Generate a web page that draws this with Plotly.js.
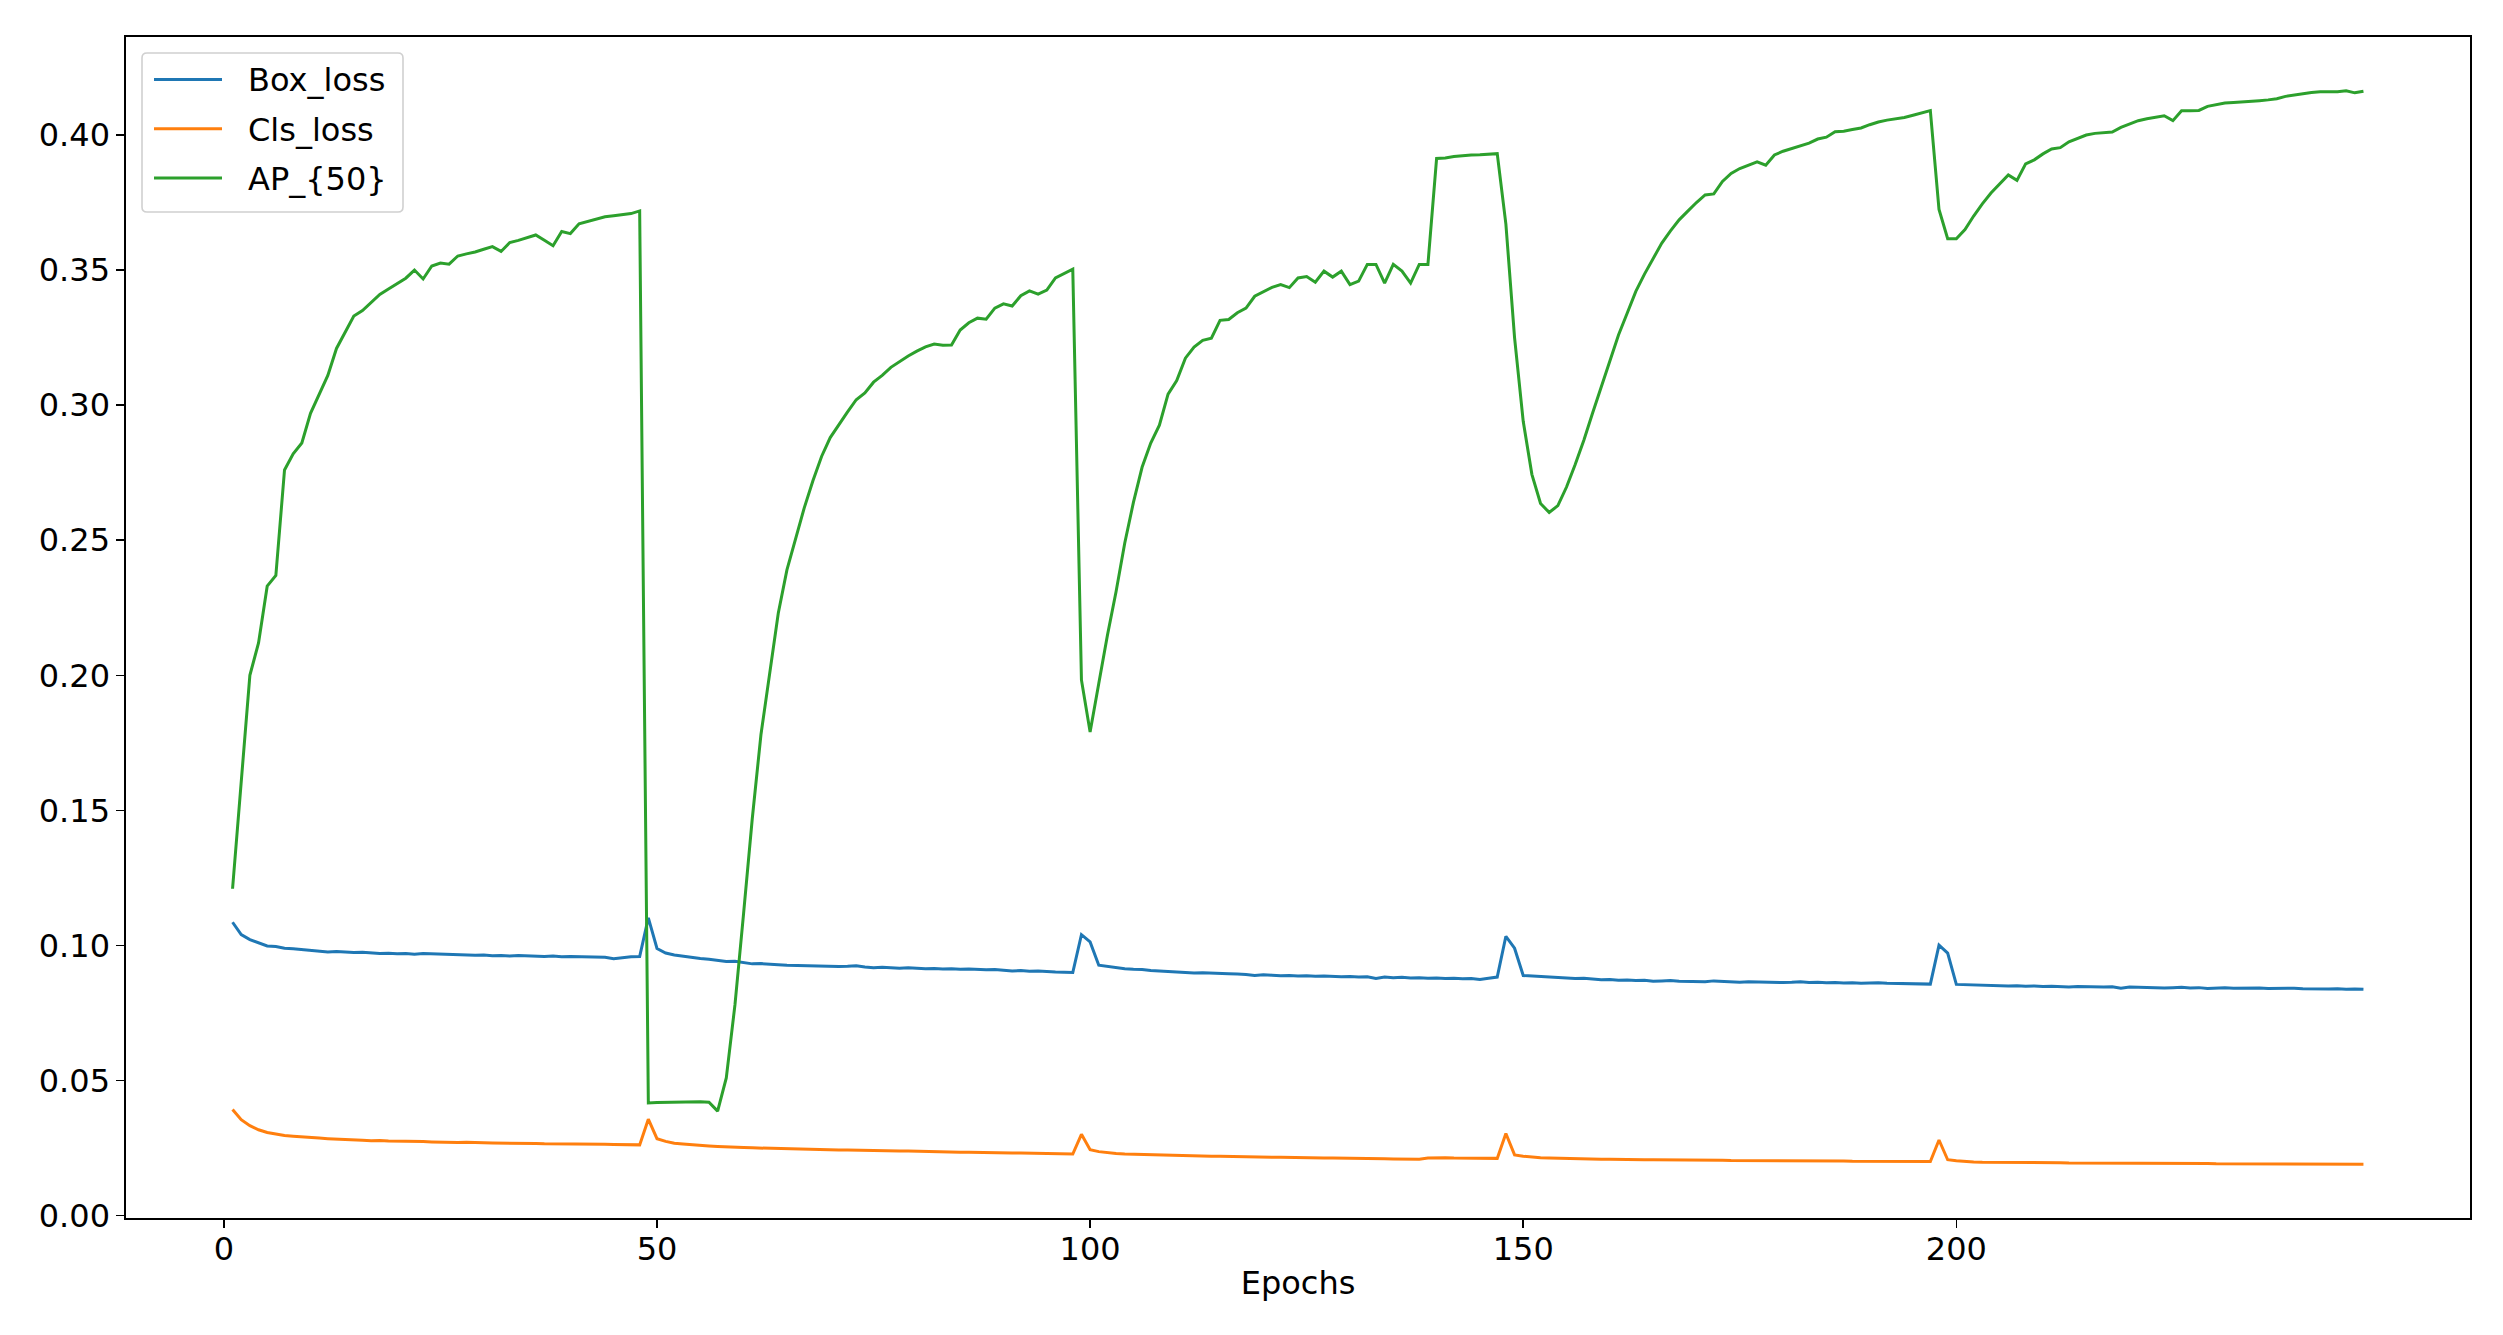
<!DOCTYPE html>
<html>
<head>
<meta charset="utf-8">
<script src="https://cdn.plot.ly/plotly-3.0.1.min.js"></script>
<style>html,body{margin:0;padding:0;background:#fff;}#chart{width:2503px;height:1335px;}</style>
</head>
<body>
<div id="chart"></div>
<script>
const seriesNames = ["Box_loss", "Cls_loss", "AP_{50}"];
const seriesColors = ["#1f77b4", "#ff7f0e", "#2ca02c"];
const xTickVals = [0, 50, 100, 150, 200];
const yTickVals = [0.00, 0.05, 0.10, 0.15, 0.20, 0.25, 0.30, 0.35, 0.40];

const boxLoss = [
0.1086,0.1040,0.1022,0.1010,0.0998,0.0996,0.0990,0.0988,0.0985,0.0983,
0.0980,0.0976,0.0978,0.0975,0.0974,0.0975,0.0972,0.0970,0.0971,0.0969,
0.0970,0.0968,0.0970,0.0969,0.0969,0.0966,0.0965,0.0966,0.0964,0.0965,
0.0962,0.0963,0.0961,0.0963,0.0961,0.0960,0.0959,0.0961,0.0958,0.0959,
0.0958,0.0957,0.0958,0.0956,0.0951,0.0955,0.0958,0.0959,0.1102,0.0989,
0.0972,0.0965,0.0960,0.0955,0.0952,0.0949,0.0946,0.0941,0.0942,0.0938,
0.0932,0.0933,0.0930,0.0929,0.0927,0.0926,0.0925,0.0926,0.0923,0.0924,
0.0922,0.0923,0.0925,0.0920,0.0918,0.0919,0.0917,0.0916,0.0918,0.0915,
0.0914,0.0915,0.0913,0.0914,0.0912,0.0913,0.0911,0.0910,0.0911,0.0908,
0.0906,0.0907,0.0905,0.0906,0.0903,0.0902,0.0901,0.0900,0.1040,0.1013,
0.0927,0.0922,0.0917,0.0914,0.0912,0.0911,0.0907,0.0905,0.0904,0.0902,
0.0899,0.0898,0.0899,0.0897,0.0896,0.0895,0.0894,0.0893,0.0889,0.0892,
0.0890,0.0888,0.0889,0.0887,0.0888,0.0886,0.0887,0.0885,0.0884,0.0885,
0.0883,0.0884,0.0878,0.0883,0.0881,0.0882,0.0880,0.0881,0.0879,0.0880,
0.0878,0.0879,0.0877,0.0878,0.0874,0.0879,0.0883,0.1034,0.0990,0.0889,
0.0887,0.0885,0.0884,0.0882,0.0880,0.0878,0.0879,0.0876,0.0873,0.0874,
0.0871,0.0872,0.0870,0.0871,0.0868,0.0869,0.0870,0.0868,0.0867,0.0868,
0.0866,0.0869,0.0867,0.0865,0.0864,0.0866,0.0865,0.0864,0.0865,0.0863,
0.0864,0.0866,0.0863,0.0864,0.0862,0.0863,0.0861,0.0862,0.0860,0.0861,
0.0862,0.0860,0.0859,0.0860,0.0857,0.0856,0.0857,0.1001,0.0972,0.0856,
0.0855,0.0854,0.0852,0.0853,0.0851,0.0850,0.0851,0.0849,0.0850,0.0848,
0.0849,0.0847,0.0846,0.0848,0.0847,0.0845,0.0846,0.0847,0.0842,0.0846,
0.0845,0.0844,0.0845,0.0843,0.0844,0.0845,0.0843,0.0844,0.0841,0.0843,
0.0844,0.0842,0.0843,0.0842,0.0843,0.0841,0.0842,0.0841,0.0842,0.0840,
0.0839,0.0840,0.0839,0.0840,0.0838,0.0839,0.0838
];

const clsLoss = [
0.0393,0.0355,0.0333,0.0318,0.0308,0.0302,0.0297,0.0294,0.0291,0.0289,
0.0287,0.0285,0.0284,0.0282,0.0280,0.0279,0.0277,0.0278,0.0276,0.0276,
0.0275,0.0275,0.0274,0.0273,0.0272,0.0272,0.0271,0.0272,0.0270,0.0270,
0.0269,0.0269,0.0268,0.0268,0.0267,0.0267,0.0266,0.0266,0.0265,0.0266,
0.0265,0.0264,0.0264,0.0264,0.0263,0.0263,0.0262,0.0262,0.0357,0.0285,
0.0275,0.0268,0.0265,0.0262,0.0260,0.0258,0.0256,0.0254,0.0253,0.0252,
0.0251,0.0250,0.0249,0.0248,0.0247,0.0246,0.0246,0.0245,0.0244,0.0244,
0.0243,0.0243,0.0242,0.0243,0.0241,0.0240,0.0240,0.0239,0.0239,0.0238,
0.0237,0.0237,0.0236,0.0236,0.0235,0.0235,0.0234,0.0234,0.0233,0.0233,
0.0232,0.0232,0.0231,0.0231,0.0230,0.0230,0.0229,0.0228,0.0301,0.0244,
0.0237,0.0233,0.0230,0.0228,0.0227,0.0226,0.0225,0.0224,0.0224,0.0223,
0.0222,0.0221,0.0221,0.0220,0.0220,0.0219,0.0218,0.0218,0.0217,0.0217,
0.0216,0.0216,0.0215,0.0215,0.0214,0.0214,0.0213,0.0213,0.0213,0.0212,
0.0212,0.0211,0.0211,0.0211,0.0210,0.0210,0.0209,0.0209,0.0213,0.0214,
0.0214,0.0213,0.0213,0.0213,0.0212,0.0212,0.0212,0.0304,0.0225,0.0220,
0.0216,0.0214,0.0213,0.0212,0.0211,0.0211,0.0210,0.0210,0.0209,0.0209,
0.0208,0.0208,0.0208,0.0207,0.0207,0.0207,0.0206,0.0206,0.0206,0.0205,
0.0205,0.0205,0.0205,0.0204,0.0204,0.0204,0.0204,0.0203,0.0203,0.0203,
0.0203,0.0203,0.0202,0.0202,0.0202,0.0202,0.0202,0.0201,0.0201,0.0201,
0.0201,0.0201,0.0200,0.0200,0.0200,0.0200,0.0200,0.0280,0.0207,0.0203,
0.0200,0.0199,0.0198,0.0198,0.0197,0.0197,0.0197,0.0196,0.0196,0.0196,
0.0196,0.0196,0.0195,0.0195,0.0195,0.0195,0.0195,0.0194,0.0194,0.0194,
0.0194,0.0194,0.0194,0.0193,0.0193,0.0193,0.0193,0.0193,0.0193,0.0192,
0.0192,0.0192,0.0192,0.0192,0.0192,0.0192,0.0191,0.0191,0.0191,0.0191,
0.0191,0.0191,0.0191,0.0190,0.0190,0.0190,0.0190
];

const ap50 = [
0.1210,0.1600,0.2000,0.2120,0.2330,0.2370,0.2760,0.2820,0.2860,0.2970,
0.3040,0.3110,0.3210,0.3270,0.3330,0.3350,0.3380,0.3410,0.3430,0.3450,
0.3470,0.3500,0.3467,0.3515,0.3526,0.3522,0.3552,0.3560,0.3567,0.3577,
0.3587,0.3569,0.3602,0.3610,0.3620,0.3630,0.3610,0.3590,0.3643,0.3635,
0.3671,0.3680,0.3689,0.3697,0.3701,0.3706,0.3709,0.3719,0.0417,0.0419,
0.0420,0.0420,0.0421,0.0421,0.0422,0.0420,0.0387,0.0510,0.0780,0.1120,
0.1470,0.1780,0.2010,0.2230,0.2390,0.2510,0.2620,0.2720,0.2810,0.2880,
0.2930,0.2975,0.3020,0.3045,0.3085,0.3110,0.3140,0.3162,0.3182,0.3200,
0.3216,0.3226,0.3222,0.3223,0.3278,0.3305,0.3322,0.3318,0.3359,0.3375,
0.3367,0.3405,0.3423,0.3411,0.3426,0.3471,0.3488,0.3503,0.1983,0.1790,
0.1970,0.2148,0.2310,0.2490,0.2640,0.2770,0.2860,0.2926,0.3041,0.3091,
0.3174,0.3215,0.3240,0.3248,0.3314,0.3317,0.3342,0.3359,0.3403,0.3421,
0.3436,0.3446,0.3435,0.3471,0.3476,0.3455,0.3496,0.3474,0.3496,0.3446,
0.3459,0.3521,0.3521,0.3452,0.3521,0.3496,0.3452,0.3521,0.3521,0.3913,
0.3915,0.3920,0.3924,0.3926,0.3927,0.3928,0.3931,0.3670,0.3250,0.2940,
0.2744,0.2636,0.2603,0.2628,0.2697,0.2780,0.2870,0.2970,0.3066,0.3170,
0.3260,0.3340,0.3421,0.3485,0.3545,0.3600,0.3645,0.3686,0.3718,0.3750,
0.3778,0.3782,0.3828,0.3858,0.3876,0.3890,0.3901,0.3888,0.3926,0.3940,
0.3950,0.3960,0.3970,0.3985,0.3992,0.4012,0.4014,0.4020,0.4026,0.4038,
0.4048,0.4055,0.4060,0.4065,0.4073,0.4082,0.4090,0.3724,0.3616,0.3616,
0.3650,0.3700,0.3745,0.3785,0.3818,0.3852,0.3832,0.3893,0.3908,0.3930,
0.3948,0.3953,0.3975,0.3988,0.4000,0.4006,0.4009,0.4011,0.4028,0.4040,
0.4053,0.4060,0.4066,0.4071,0.4053,0.4090,0.4090,0.4091,0.4106,0.4112,
0.4118,0.4120,0.4122,0.4123,0.4127,0.4130,0.4134,0.4143,0.4148,0.4153,
0.4157,0.4160,0.4159,0.4160,0.4164,0.4156,0.4162
];

const epochs = boxLoss.map((_, i) => i + 1);
const allSeries = [boxLoss, clsLoss, ap50];

const traces = allSeries.map((ys, k) => ({
  x: epochs,
  y: ys,
  type: 'scatter',
  mode: 'lines',
  name: seriesNames[k],
  showlegend: false,
  line: {color: seriesColors[k], width: 3}
}));

// matplotlib-style 5% autoscale margins
const allY = [].concat(boxLoss, clsLoss, ap50);
const yMin = Math.min(...allY), yMax = Math.max(...allY);
const yPad = (yMax - yMin) * 0.05;
const xMin = epochs[0], xMax = epochs[epochs.length - 1];
const xPad = (xMax - xMin) * 0.05;

const W = 2503, H = 1335;
const M = {l: 126, r: 33, t: 37, b: 117};
const plotW = W - M.l - M.r, plotH = H - M.t - M.b;
const px2x = p => (p - M.l) / plotW;
const px2y = p => (H - M.b - p) / plotH;

const FONT = 'DejaVu Sans';
const FS = 32;

// matplotlib-like legend box (upper left) drawn in paper space
const lg = {left: 142, top: 53, right: 403, bottom: 212, r: 5,
            lineX0: 154, lineX1: 222, textX: 246, rowY0: 79.5, rowStep: 49.2};
function roundedRectPath(x0, y0, x1, y1, r) {
  const X = px2x, Y = px2y;
  return 'M' + X(x0 + r) + ',' + Y(y0) +
    ' L' + X(x1 - r) + ',' + Y(y0) + ' Q' + X(x1) + ',' + Y(y0) + ' ' + X(x1) + ',' + Y(y0 + r) +
    ' L' + X(x1) + ',' + Y(y1 - r) + ' Q' + X(x1) + ',' + Y(y1) + ' ' + X(x1 - r) + ',' + Y(y1) +
    ' L' + X(x0 + r) + ',' + Y(y1) + ' Q' + X(x0) + ',' + Y(y1) + ' ' + X(x0) + ',' + Y(y1 - r) +
    ' L' + X(x0) + ',' + Y(y0 + r) + ' Q' + X(x0) + ',' + Y(y0) + ' ' + X(x0 + r) + ',' + Y(y0) + ' Z';
}
const shapes = [{
  type: 'path', xref: 'paper', yref: 'paper', layer: 'above',
  path: roundedRectPath(lg.left, lg.top, lg.right, lg.bottom, lg.r),
  fillcolor: 'rgba(255,255,255,0.8)', line: {color: '#d0d0d0', width: 1.6}
}];
const annotations = [];
seriesNames.forEach((nm, k) => {
  const yc = lg.rowY0 + k * lg.rowStep;
  shapes.push({
    type: 'line', xref: 'paper', yref: 'paper', layer: 'above',
    x0: px2x(lg.lineX0), x1: px2x(lg.lineX1), y0: px2y(yc), y1: px2y(yc),
    line: {color: seriesColors[k], width: 3}
  });
  annotations.push({
    xref: 'paper', yref: 'paper', x: px2x(lg.textX), y: px2y(yc + 1),
    xanchor: 'left', yanchor: 'middle', showarrow: false, text: nm,
    font: {family: FONT, size: FS, color: '#000'}
  });
});

const axisCommon = {
  showline: true, mirror: true, linecolor: '#000', linewidth: 1.6,
  showgrid: false, zeroline: false,
  ticks: 'outside', ticklen: 8, tickwidth: 1.6, tickcolor: '#000',
  tickfont: {family: FONT, size: FS, color: '#000'}
};

const layout = {
  width: W, height: H,
  margin: M,
  paper_bgcolor: '#fff', plot_bgcolor: '#fff',
  font: {family: FONT, size: FS, color: '#000'},
  showlegend: false,
  shapes: shapes,
  annotations: annotations,
  xaxis: Object.assign({}, axisCommon, {
    range: [xMin - xPad, xMax + xPad],
    ticklabelstandoff: -6,
    tickmode: 'array', tickvals: xTickVals, ticktext: xTickVals.map(String),
    title: {text: 'Epochs', font: {family: FONT, size: FS, color: '#000'}, standoff: 4}
  }),
  yaxis: Object.assign({}, axisCommon, {
    range: [yMin - yPad, yMax + yPad],
    tickmode: 'array', tickvals: yTickVals, ticktext: yTickVals.map(v => v.toFixed(2))
  })
};

Plotly.newPlot('chart', traces, layout, {displayModeBar: false, staticPlot: true});
</script>
</body>
</html>
